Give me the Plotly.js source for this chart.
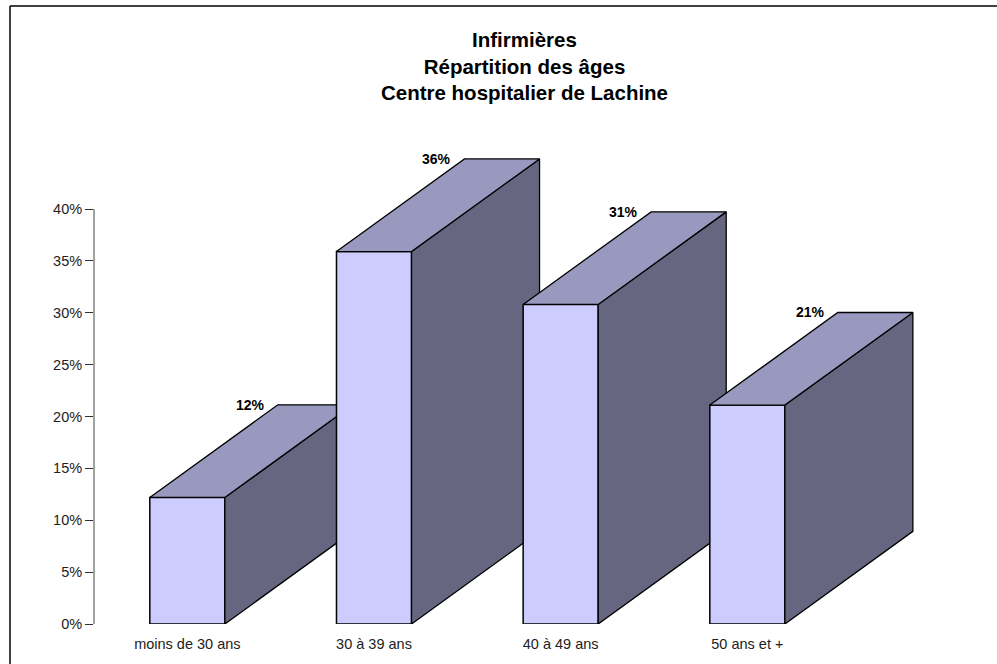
<!DOCTYPE html>
<html>
<head>
<meta charset="utf-8">
<script src="https://cdn.plot.ly/plotly-3.0.1.min.js"></script>
<style>html,body{margin:0;padding:0;background:#fff}</style>
</head>
<body>
<div id="chart" style="width:997px;height:664px"></div>
<script>
const categories = ['moins de 30 ans', '30 à 39 ans', '40 à 49 ans', '50 ans et +'];
const values = [12.2, 35.9, 30.8, 21.1];
const valueLabels = ['12%', '36%', '31%', '21%'];
const positions = [0, 1, 2, 3];
const yTicks = [0, 5, 10, 15, 20, 25, 30, 35, 40];
const yTickLabels = ['0%', '5%', '10%', '15%', '20%', '25%', '30%', '35%', '40%'];
const titleText = 'Infirmières<br>Répartition des âges<br>Centre hospitalier de Lachine';

const W = 997, H = 664;
const plotL = 94, plotT = 150, plotB = 624, stepPx = 186.67, pxPerPct = 415 / 40;
const xRange = [-0.5, -0.5 + (W - plotL) / stepPx];
const yRange = [0, (plotB - plotT) / pxPerPct];
const plotW = W - plotL, plotH = plotB - plotT;
const barWidth = 0.402;
const depthX = 128 / stepPx, depthY = 92.6 / pxPerPct;
const font = 'Liberation Sans, Arial, sans-serif';
const ink = '#000000';

const traces = [];
const layout = {
  width: W, height: H, autosize: false,
  paper_bgcolor: '#ffffff', plot_bgcolor: 'rgba(0,0,0,0)',
  showlegend: false, hovermode: false,
  margin: {l: plotL, t: plotT, r: 0, b: H - plotB, pad: 0},
  font: {family: font, color: '#000000', size: 12},
  title: {text: '<b>' + titleText + '</b>', font: {family: font, size: 20.5, color: '#000000'},
          x: 524.5 / W, xanchor: 'center', xref: 'container', y: 1 - 47 / H, yref: 'container', yanchor: 'top'},
  xaxis: {range: xRange, tickmode: 'array', tickvals: positions, ticktext: categories,
          ticks: '', showline: false, showgrid: false, zeroline: false, ticklabelstandoff: 9,
          tickfont: {family: font, size: 14.5, color: '#222222'}, fixedrange: true},
  yaxis: {range: yRange, tickmode: 'array', tickvals: yTicks, ticktext: yTickLabels, ticks: 'outside', ticklen: 8, tickwidth: 1,
          tickcolor: '#333333', showline: false, showgrid: false, zeroline: false,
          tickfont: {family: font, size: 14.5, color: '#222222'}, fixedrange: true},
  annotations: [],
  shapes: [
    {type: 'line', xref: 'paper', yref: 'y', x0: 0, x1: 0, y0: yTicks[0], y1: yTicks[yTicks.length - 1],
     line: {color: '#444444', width: 1}},
    {type: 'line', xref: 'paper', yref: 'paper', x0: (10 - plotL) / plotW, x1: (10 - plotL) / plotW,
     y0: (plotB - H) / plotH, y1: (plotB - 6) / plotH, line: {color: '#000000', width: 1.5}},
    {type: 'line', xref: 'paper', yref: 'paper', x0: (10 - plotL) / plotW, x1: 1,
     y0: (plotB - 6) / plotH, y1: (plotB - 6) / plotH, line: {color: '#000000', width: 1.5}}
  ]
};

positions.forEach((p, i) => {
  const n = i === 0 ? '' : String(i + 1);
  const xa = 'x' + n, ya = 'y' + n;
  if (i > 0) {
    layout['xaxis' + n] = {overlaying: 'x', range: xRange, visible: false, fixedrange: true};
    layout['yaxis' + n] = {overlaying: 'y', range: yRange, visible: false, fixedrange: true};
  }
  const v = values[i], l = p - barWidth / 2, r = p + barWidth / 2;
  // front face
  traces.push({type: 'bar', x: [p], y: [v], width: barWidth, xaxis: xa, yaxis: ya,
    marker: {color: '#CCCCFF', line: {color: ink, width: 1.5}}});
  // side face
  traces.push({type: 'scatter', mode: 'lines', fill: 'toself', fillcolor: '#666680',
    x: [r, r + depthX, r + depthX, r, r], y: [0, depthY, v + depthY, v, 0], xaxis: xa, yaxis: ya,
    line: {color: ink, width: 1.3}});
  // top face
  traces.push({type: 'scatter', mode: 'lines', fill: 'toself', fillcolor: '#9999BF',
    x: [l, l + depthX, r + depthX, r, l], y: [v, v + depthY, v + depthY, v, v], xaxis: xa, yaxis: ya,
    line: {color: ink, width: 1.3}});
  layout.annotations.push({x: l + depthX, y: v + depthY, xref: 'x', yref: 'y', text: '<b>' + valueLabels[i] + '</b>',
    showarrow: false, xanchor: 'right', yanchor: 'middle', xshift: -11,
    font: {family: font, size: 14, color: '#000000'}});
});

Plotly.newPlot('chart', traces, layout, {displayModeBar: false, staticPlot: true});
</script>
</body>
</html>
